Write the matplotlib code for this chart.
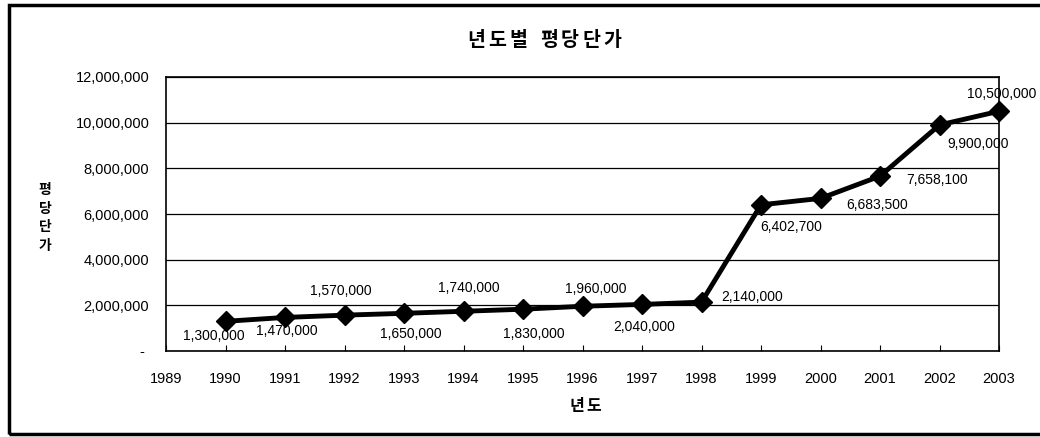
import matplotlib
matplotlib.use("Agg")
import matplotlib.pyplot as plt
from matplotlib.patches import Rectangle
from matplotlib.ticker import FuncFormatter

plt.rcParams['font.family'] = ['Liberation Sans', 'Noto Sans CJK KR', 'DejaVu Sans']

# data
years = [1990, 1991, 1992, 1993, 1994, 1995, 1996, 1997, 1998, 1999, 2000, 2001, 2002, 2003]
prices = [1300000, 1470000, 1570000, 1650000, 1740000, 1830000, 1960000,
          2040000, 2140000, 6402700, 6683500, 7658100, 9900000, 10500000]
year_ticks = list(range(1989, 2004))
y_ticks = [0, 2000000, 4000000, 6000000, 8000000, 10000000, 12000000]

title = '년도별 평당단가'
x_title = '년도'
y_title = '평당단가'

# label offsets in pixels (dx right, dy up)
label_offsets = [(-12, -15), (2, -14), (-4, 24), (7, -21), (5, 23), (11, -25), (13, 17),
                 (2, -23), (51, 5), (30, -22), (57, -7), (57, -4), (39, -19), (3, 17)]

W, H = 1040, 437
fig = plt.figure(figsize=(W / 100, H / 100), dpi=100)
ax = fig.add_axes([166 / W, 1 - 351 / H, (999 - 166) / W, (351 - 77) / H])

ax.plot(years, prices, color='black', lw=3.5, marker='D', ms=10, mew=1,
        mfc='black', mec='black', zorder=3, clip_on=False)

for x, v, (dx, dy) in zip(years, prices, label_offsets):
    ax.annotate(format(v, ','), (x, v), xytext=(dx, dy), textcoords='offset pixels',
                ha='center', va='center', fontsize=10, zorder=4)

ax.set_xlim(1989, 2003)
ax.set_ylim(0, 12000000)
ax.set_xticks(year_ticks)
ax.set_yticks(y_ticks)
ax.yaxis.set_major_formatter(FuncFormatter(lambda v, p: '- ' if v == 0 else format(int(v), ',')))
ax.tick_params(axis='x', direction='in', length=4, pad=15, labelsize=10.5, width=0.8)
ax.tick_params(axis='y', length=0, pad=12, labelsize=10.5)
ax.grid(axis='y', color='black', lw=0.9)
ax.set_axisbelow(True)
for s in ax.spines.values():
    s.set_linewidth(1.2)
    s.set_color('black')


def spaced_text(s, x0, y, pitch, extra, **kw):
    # draw a string one glyph at a time with wide letter spacing
    x = x0
    for ch in s:
        if ch == ' ':
            x += extra
            continue
        fig.text(x / W, 1 - y / H, ch, ha='center', va='center', **kw)
        x += pitch


kr = dict(fontweight='bold', family=['Noto Sans CJK KR'])
spaced_text(title, 476, 40, 21, 10, fontsize=14, **kr)
spaced_text(x_title, 577, 406, 17, 0, fontsize=11.5, **kr)
fig.text(45 / W, 1 - 218 / H, '\n'.join(y_title), ha='center', va='center',
         fontsize=10, linespacing=1.4, **kr)

# outer frame of the chart area
fig.patches.append(Rectangle((9 / W, 1 - 434 / H), 1.2, (434 - 5) / H,
                             transform=fig.transFigure, fill=False, ec='black', lw=2.5))

fig.savefig('out.png', dpi=100, facecolor='white')
